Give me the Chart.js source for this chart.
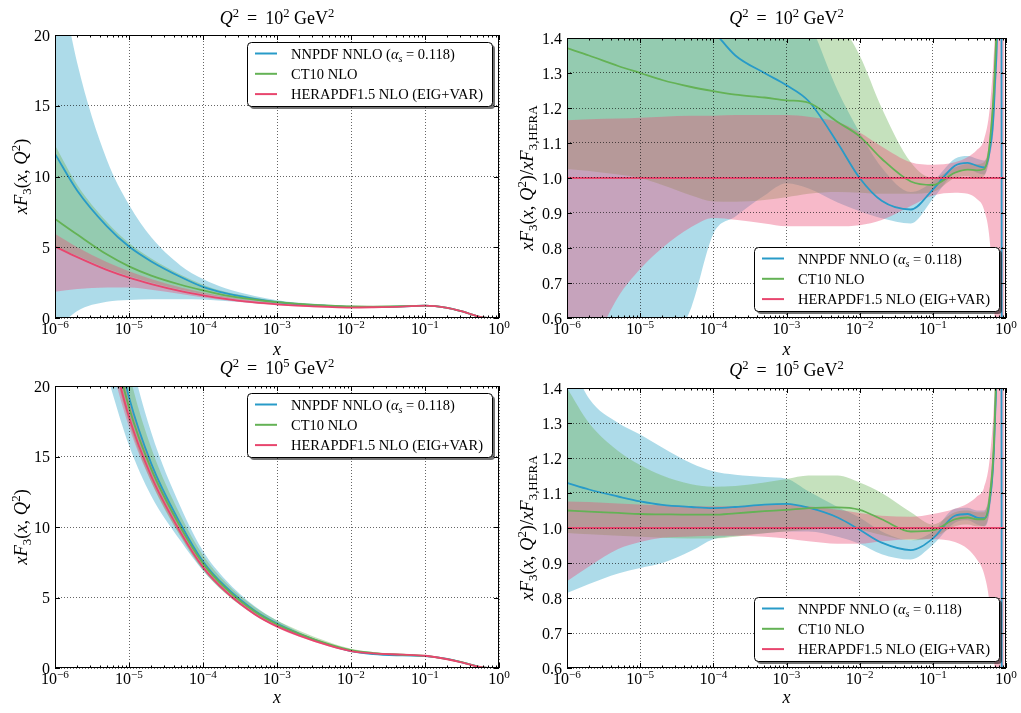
<!DOCTYPE html>
<html lang="en">
<head>
<meta charset="UTF-8">
<title>xF3 comparison</title>
<script src="https://cdn.jsdelivr.net/npm/chart.js"></script>
<style>
  body { margin: 0; background: #fff; }
  #wrap { position: relative; width: 1021px; height: 713px; }
  #wrap canvas { position: absolute; left: 0; top: 0; }
</style>
</head>
<body>
<div id="wrap">
  <canvas id="cA" width="1021" height="713"></canvas>
  <canvas id="cB" width="1021" height="713"></canvas>
  <canvas id="cC" width="1021" height="713"></canvas>
  <canvas id="cD" width="1021" height="713"></canvas>
</div>
<script>
// x sampling points (shared by all panels)
const xs = [1e-6, 2e-6, 5e-6, 1e-5, 2e-5, 5e-5, 1e-4, 2e-4, 5e-4, 1e-3, 2e-3, 5e-3, 1e-2, 2e-2, 5e-2,
            0.1, 0.2, 0.3, 0.4, 0.5, 0.6, 0.7, 0.8, 0.85, 0.9, 0.95];

// tick values
const xDecades = [-6, -5, -4, -3, -2, -1, 0];
const yTicksF = [0, 5, 10, 15, 20];
const yTicksR = [0.6, 0.7, 0.8, 0.9, 1.0, 1.1, 1.2, 1.3, 1.4];

// --- Q2 = 10^2, xF3 ---
const nnA   = [11.6, 9.0, 6.5, 5.05, 4.0, 2.9, 2.2, 1.75, 1.35, 1.12, 0.97, 0.85, 0.78, 0.78, 0.82, 0.87, 0.72, 0.5, 0.3, 0.14, 0.05, 0.015, 0.003, 0, 0, 0];
const nnAlo = [-0.9, 0.5, 1.15, 1.28, 1.32, 1.33, 1.3, 1.2, 1.05, 0.95, 0.85, 0.76, 0.72, 0.74, 0.79, 0.85, 0.7, 0.48, 0.29, 0.13, 0.045, 0.012, 0.002, 0, 0, 0];
const nnAhi = [26, 18, 11.2, 8.0, 5.7, 3.7, 2.75, 2.1, 1.55, 1.25, 1.07, 0.93, 0.86, 0.84, 0.86, 0.9, 0.74, 0.52, 0.31, 0.15, 0.055, 0.018, 0.004, 0, 0, 0];
const ctA   = [7.0, 5.9, 4.5, 3.65, 3.0, 2.35, 1.95, 1.6, 1.3, 1.12, 1.0, 0.88, 0.82, 0.81, 0.83, 0.88, 0.72, 0.5, 0.3, 0.14, 0.05, 0.015, 0.003, 0, 0, 0];
const ctAlo = [5.0, 4.4, 3.5, 2.95, 2.5, 2.0, 1.7, 1.45, 1.2, 1.05, 0.95, 0.84, 0.78, 0.78, 0.81, 0.86, 0.7, 0.49, 0.29, 0.13, 0.045, 0.013, 0.002, 0, 0, 0];
const ctAhi = [12.2, 9.4, 6.8, 5.3, 4.2, 3.05, 2.35, 1.85, 1.45, 1.2, 1.05, 0.93, 0.86, 0.85, 0.86, 0.9, 0.74, 0.51, 0.31, 0.15, 0.055, 0.017, 0.004, 0, 0, 0];
const heA   = [5.05, 4.3, 3.4, 2.85, 2.4, 1.9, 1.6, 1.35, 1.1, 0.97, 0.87, 0.78, 0.74, 0.76, 0.81, 0.88, 0.72, 0.5, 0.3, 0.14, 0.05, 0.015, 0.003, 0, 0, 0];
const heAlo = [1.85, 2.05, 2.15, 2.15, 2.0, 1.7, 1.45, 1.25, 1.03, 0.9, 0.8, 0.73, 0.7, 0.72, 0.79, 0.86, 0.7, 0.48, 0.29, 0.13, 0.045, 0.012, 0.002, 0, 0, 0];
const heAhi = [5.95, 5.0, 3.95, 3.3, 2.75, 2.15, 1.8, 1.5, 1.22, 1.07, 0.95, 0.85, 0.8, 0.8, 0.83, 0.9, 0.74, 0.52, 0.31, 0.15, 0.055, 0.018, 0.004, 0, 0, 0];

// --- Q2 = 10^2, ratio to HERAPDF ---
const nnB   = [2.3, 2.1, 1.85, 1.7, 1.6, 1.48, 1.42, 1.35, 1.3, 1.265, 1.22, 1.1, 1.0, 0.935, 0.91, 0.967, 1.035, 1.043, 1.035, 1.03, 1.08, 1.25, 1.8, 3.0, -2.0, -2.0];
const nnBlo = [-0.3, -0.1, 0.2, 0.35, 0.48, 0.63, 0.84, 0.89, 0.95, 0.985, 0.97, 0.93, 0.905, 0.885, 0.87, 0.94, 1.015, 1.025, 1.015, 1.01, 1.06, 1.2, 1.7, 2.8, -2.2, -2.2];
const nnBhi = [3.0, 2.6, 2.2, 2.0, 1.9, 1.8, 1.75, 1.7, 1.62, 1.55, 1.45, 1.25, 1.13, 1.03, 0.96, 0.99, 1.055, 1.063, 1.055, 1.05, 1.1, 1.3, 1.9, 3.2, -1.8, -1.8];
const ctB   = [1.371, 1.35, 1.32, 1.3, 1.28, 1.26, 1.248, 1.238, 1.23, 1.222, 1.215, 1.16, 1.119, 1.055, 0.99, 0.98, 1.015, 1.024, 1.022, 1.025, 1.1, 1.3, 1.7, 2.2, 3.0, 3.5];
const ctBlo = [1.026, 1.02, 1.01, 1.0, 0.98, 0.95, 0.933, 0.932, 0.937, 0.945, 0.955, 0.96, 0.958, 0.955, 0.955, 0.96, 1.0, 1.005, 1.0, 1.005, 1.08, 1.25, 1.6, 2.1, 2.9, 3.4];
const ctBhi = [1.8, 1.75, 1.7, 1.68, 1.66, 1.64, 1.62, 1.6, 1.58, 1.56, 1.52, 1.45, 1.35, 1.2, 1.045, 1.0, 1.03, 1.04, 1.04, 1.045, 1.12, 1.35, 1.8, 2.3, 3.1, 3.6];
const heB   = [1, 1, 1, 1, 1, 1, 1, 1, 1, 1, 1, 1, 1, 1, 1, 1, 1, 1, 1, 1, 1, 1, 1, 1, 1, 1];
const heBlo = [0.4, 0.5, 0.66, 0.74, 0.8, 0.86, 0.886, 0.881, 0.87, 0.862, 0.862, 0.862, 0.865, 0.88, 0.92, 0.95, 0.958, 0.955, 0.94, 0.91, 0.82, 0.6, 0.3, 0.1, -0.2, -0.5];
const heBhi = [1.165, 1.168, 1.17, 1.172, 1.175, 1.178, 1.178, 1.18, 1.18, 1.18, 1.175, 1.16, 1.13, 1.09, 1.045, 1.038, 1.045, 1.06, 1.08, 1.11, 1.2, 1.4, 1.7, 2.0, 2.5, 3.0];

// --- Q2 = 10^5, xF3 ---
const nnC   = [50.8, 37.7, 26.2, 19.2, 14.5, 10.2, 7.56, 5.78, 4.07, 3.15, 2.43, 1.65, 1.19, 0.99, 0.89, 0.845, 0.64, 0.44, 0.26, 0.123, 0.049, 0.015, 0.002, 0, 0, 0];
const nnClo = [36.6, 28.6, 20.9, 15.8, 12.2, 9.0, 6.9, 5.33, 3.76, 2.92, 2.28, 1.56, 1.15, 0.95, 0.865, 0.83, 0.63, 0.43, 0.253, 0.121, 0.047, 0.014, 0.002, 0, 0, 0];
const nnChi = [67, 46.6, 31.2, 22.6, 16.7, 11.4, 8.3, 6.28, 4.38, 3.36, 2.54, 1.7, 1.24, 1.02, 0.92, 0.86, 0.65, 0.45, 0.265, 0.126, 0.05, 0.016, 0.003, 0, 0, 0];
const ctC   = [47.3, 35.6, 25.0, 18.5, 14.1, 9.96, 7.42, 5.68, 4.0, 3.1, 2.43, 1.69, 1.26, 1.06, 0.94, 0.865, 0.635, 0.435, 0.256, 0.123, 0.049, 0.015, 0.002, 0, 0, 0];
const ctClo = [44.4, 33.4, 23.5, 17.4, 13.2, 9.3, 6.94, 5.31, 3.76, 2.92, 2.29, 1.6, 1.19, 1.01, 0.92, 0.845, 0.625, 0.425, 0.251, 0.121, 0.048, 0.014, 0.002, 0, 0, 0];
const ctChi = [63, 44.2, 29.3, 21.0, 15.6, 10.8, 8.0, 6.1, 4.32, 3.36, 2.65, 1.84, 1.36, 1.13, 0.99, 0.88, 0.645, 0.44, 0.26, 0.125, 0.05, 0.016, 0.003, 0, 0, 0];
const heC   = [45, 34, 24, 17.8, 13.6, 9.6, 7.15, 5.45, 3.82, 2.95, 2.3, 1.6, 1.2, 1.03, 0.95, 0.87, 0.62, 0.42, 0.25, 0.12, 0.045, 0.012, 0.002, 0, 0, 0];
const heClo = [38.2, 30.3, 22.6, 17.1, 13.2, 9.37, 7.0, 5.33, 3.72, 2.86, 2.21, 1.53, 1.15, 0.99, 0.92, 0.84, 0.6, 0.4, 0.235, 0.11, 0.04, 0.009, 0.001, 0, 0, 0];
const heChi = [48.4, 36.5, 25.7, 19.0, 14.5, 10.2, 7.6, 5.8, 4.07, 3.15, 2.44, 1.68, 1.25, 1.07, 0.98, 0.905, 0.655, 0.45, 0.272, 0.134, 0.054, 0.017, 0.004, 0, 0, 0];

// --- Q2 = 10^5, ratio to HERAPDF ---
const nnD   = [1.129, 1.11, 1.09, 1.076, 1.066, 1.06, 1.057, 1.06, 1.067, 1.069, 1.058, 1.03, 0.995, 0.958, 0.937, 0.97, 1.035, 1.04, 1.03, 1.028, 1.08, 1.28, 1.9, 3.0, -2.0, -2.0];
const nnDlo = [0.814, 0.84, 0.87, 0.886, 0.9, 0.935, 0.968, 0.978, 0.985, 0.99, 0.99, 0.975, 0.955, 0.925, 0.91, 0.952, 1.015, 1.022, 1.01, 1.005, 1.05, 1.24, 1.8, 2.8, -2.2, -2.2];
const nnDhi = [1.5, 1.37, 1.3, 1.267, 1.23, 1.185, 1.162, 1.152, 1.146, 1.141, 1.105, 1.06, 1.03, 0.99, 0.965, 0.99, 1.055, 1.058, 1.05, 1.05, 1.11, 1.32, 2.0, 3.2, -1.8, -1.8];
const ctD   = [1.05, 1.047, 1.043, 1.04, 1.039, 1.038, 1.038, 1.042, 1.048, 1.052, 1.057, 1.059, 1.052, 1.025, 0.99, 0.993, 1.025, 1.03, 1.025, 1.025, 1.09, 1.3, 1.9, 2.6, 3.2, 3.6];
const ctDlo = [0.986, 0.982, 0.978, 0.975, 0.972, 0.97, 0.97, 0.975, 0.985, 0.99, 0.995, 1.0, 0.995, 0.98, 0.965, 0.972, 1.005, 1.01, 1.005, 1.005, 1.06, 1.25, 1.8, 2.4, 3.0, 3.4];
const ctDhi = [1.4, 1.3, 1.22, 1.18, 1.15, 1.125, 1.118, 1.12, 1.13, 1.14, 1.15, 1.15, 1.13, 1.1, 1.045, 1.01, 1.045, 1.05, 1.045, 1.045, 1.12, 1.35, 2.0, 2.8, 3.4, 3.8];
const heD   = [1, 1, 1, 1, 1, 1, 1, 1, 1, 1, 1, 1, 1, 1, 1, 1, 1, 1, 1, 1, 1, 1, 1, 1, 1, 1];
const heDlo = [0.848, 0.89, 0.94, 0.96, 0.972, 0.976, 0.978, 0.978, 0.975, 0.97, 0.962, 0.955, 0.955, 0.962, 0.968, 0.968, 0.96, 0.94, 0.91, 0.87, 0.78, 0.6, 0.3, 0.1, -0.2, -0.5];
const heDhi = [1.076, 1.074, 1.07, 1.067, 1.065, 1.063, 1.062, 1.063, 1.065, 1.066, 1.062, 1.052, 1.043, 1.035, 1.032, 1.04, 1.055, 1.07, 1.09, 1.115, 1.2, 1.4, 1.8, 2.2, 2.8, 3.0];

const SERIF = '"Liberation Serif", "DejaVu Serif", serif';

// label pieces: [text, style] with i = italic, ^ = superscript, _ = subscript
const legendLabels = [
  [['NNPDF NNLO ('], ['\u03b1', 'i'], ['s', 'i_'], [' = 0.118)']],
  [['CT10 NLO']],
  [['HERAPDF1.5 NLO (EIG+VAR)']]
];
const lineColors = ['rgb(40,155,200)', 'rgb(100,178,85)', 'rgb(232,70,110)'];
const bandColors = ['rgba(50,165,200,0.4)', 'rgba(110,180,90,0.4)', 'rgba(235,80,120,0.4)'];

const titleLo = [['Q', 'i'], ['2', '^'], [' \u2009=\u2009 10'], ['2', '^'], [' GeV'], ['2', '^']];
const titleHi = [['Q', 'i'], ['2', '^'], [' \u2009=\u2009 10'], ['5', '^'], [' GeV'], ['2', '^']];
const ylabF = [['xF', 'i'], ['3', '_'], ['('], ['x', 'i'], [', '], ['Q', 'i'], ['2', '^'], [')']];
const ylabR = [['xF', 'i'], ['3', '_'], ['('], ['x', 'i'], [', '], ['Q', 'i'], ['2', '^'], [')/'], ['xF', 'i'], ['3,HERA', '_']];

function isDecade(v) {
  const l = Math.log10(v);
  return Math.abs(l - Math.round(l)) < 1e-6;
}

function rich(ctx, parts, x, y, size, align, angle) {
  ctx.save();
  ctx.translate(x, y);
  if (angle) ctx.rotate(angle);
  const items = parts.map(([t, s = '']) => {
    const small = s.includes('^') || s.includes('_');
    const fs = small ? size * 0.7 : size;
    const font = (s.includes('i') ? 'italic ' : '') + fs + 'px ' + SERIF;
    ctx.font = font;
    return { t, font, w: ctx.measureText(t).width,
             dy: s.includes('^') ? -size * 0.4 : s.includes('_') ? size * 0.22 : 0 };
  });
  const total = items.reduce((s, it) => s + it.w, 0);
  let cx = align === 'center' ? -total / 2 : align === 'right' ? -total : 0;
  ctx.fillStyle = '#000';
  ctx.textAlign = 'left';
  ctx.textBaseline = 'alphabetic';
  items.forEach(it => { ctx.font = it.font; ctx.fillText(it.t, cx, it.dy); cx += it.w; });
  ctx.restore();
}

function pts(arr) {
  return xs.map((x, i) => ({ x: x, y: arr[i] }));
}

// lines first (drawn last, on top), then bands: pink, green, blue (blue drawn first)
function makeDatasets(mids, los, his) {
  const sets = [2, 1, 0].map(k => ({
    data: pts(mids[k]), borderColor: lineColors[k], borderWidth: 1.8, fill: false
  }));
  [2, 1, 0].forEach(k => {
    sets.push({ data: pts(his[k]), borderColor: 'rgba(0,0,0,0)', borderWidth: 0,
                backgroundColor: bandColors[k], fill: '+1' });
    sets.push({ data: pts(los[k]), borderColor: 'rgba(0,0,0,0)', borderWidth: 0, fill: false });
  });
  return sets;
}

function decorations(cfg) {
  return {
    id: 'decorations',
    afterDraw(chart) {
      const { ctx, chartArea: a } = chart;
      const sx = chart.scales.x, sy = chart.scales.y;
      ctx.save();
      ctx.strokeStyle = '#000';
      ctx.lineWidth = 1;
      ctx.beginPath();
      sx.ticks.forEach(t => {
        const px = Math.round(sx.getPixelForValue(t.value)) + 0.5;
        const len = isDecade(t.value) ? 5 : 2.5;
        ctx.moveTo(px, a.bottom); ctx.lineTo(px, a.bottom - len);
        ctx.moveTo(px, a.top); ctx.lineTo(px, a.top + len);
      });
      sy.ticks.forEach(t => {
        const py = Math.round(sy.getPixelForValue(t.value)) + 0.5;
        ctx.moveTo(a.left, py); ctx.lineTo(a.left + 5, py);
        ctx.moveTo(a.right, py); ctx.lineTo(a.right - 5, py);
      });
      ctx.stroke();
      ctx.strokeRect(a.left + 0.5, a.top + 0.5, a.width - 1, a.height - 1);

      // tick labels
      sx.ticks.filter(t => isDecade(t.value)).forEach(t => {
        const e = Math.round(Math.log10(t.value));
        rich(ctx, [['10'], [e < 0 ? '\u2212' + (-e) : String(e), '^']],
             sx.getPixelForValue(t.value), a.bottom + 16, 16, 'center');
      });
      sy.ticks.forEach(t => {
        rich(ctx, [[cfg.yfmt(t.value)]], a.left - 5, sy.getPixelForValue(t.value) + 5.5, 16, 'right');
      });

      // titles
      const cx = (a.left + a.right) / 2;
      rich(ctx, cfg.title, cx, cfg.titleY, 18, 'center');
      rich(ctx, [['x', 'i']], cx, cfg.xlabY, 18, 'center');
      rich(ctx, cfg.ylab, cfg.ylabX, (a.top + a.bottom) / 2, 18.5, 'center', -Math.PI / 2);

      // legend box
      const w = 245, h = 64;
      const lx = a.right - 7 - w;
      const ly = cfg.legendTop ? a.top + 7 : a.bottom - 7 - h;
      ctx.fillStyle = 'rgba(0,0,0,0.55)';
      ctx.beginPath(); ctx.roundRect(lx + 3, ly + 3, w, h, 4); ctx.fill();
      ctx.fillStyle = '#fff';
      ctx.beginPath(); ctx.roundRect(lx + 0.5, ly + 0.5, w, h, 4); ctx.fill();
      ctx.strokeStyle = '#000'; ctx.lineWidth = 1; ctx.stroke();
      legendLabels.forEach((lab, i) => {
        const yy = ly + 11.5 + i * 20.3;
        ctx.strokeStyle = lineColors[i]; ctx.lineWidth = 2;
        ctx.beginPath(); ctx.moveTo(lx + 8, yy); ctx.lineTo(lx + 30, yy); ctx.stroke();
        rich(ctx, lab, lx + 44, yy + 5, 14.5, 'left');
      });
      ctx.restore();
    }
  };
}

function makeChart(id, cfg) {
  const gridColor = c => (c.tick && isDecade(c.tick.value)) ? 'rgba(0,0,0,0.6)' : 'rgba(0,0,0,0)';
  const xTickValues = [];
  xDecades.forEach(e => {
    if (e === 0) { xTickValues.push(1); return; }
    for (let m = 1; m <= 9; m++) xTickValues.push(m * Math.pow(10, e));
  });
  new Chart(document.getElementById(id), {
    type: 'line',
    data: { datasets: makeDatasets(cfg.mids, cfg.los, cfg.his) },
    options: {
      responsive: false,
      animation: false,
      devicePixelRatio: 1,
      events: [],
      layout: { padding: cfg.pad },
      elements: {
        point: { radius: 0, hoverRadius: 0 },
        line: { cubicInterpolationMode: 'monotone', tension: 0.4, capBezierPoints: false }
      },
      plugins: { legend: { display: false }, tooltip: { enabled: false } },
      scales: {
        x: {
          type: 'logarithmic', min: 1e-6, max: 1,
          afterBuildTicks: s => { s.ticks = xTickValues.map(v => ({ value: v })); },
          ticks: { display: false },
          grid: { color: gridColor, lineWidth: 1, drawTicks: false, z: 1 },
          border: { display: false, dash: [1, 2] }
        },
        y: {
          type: 'linear', min: cfg.yTicks[0], max: cfg.yTicks[cfg.yTicks.length - 1],
          afterBuildTicks: s => { s.ticks = cfg.yTicks.map(v => ({ value: v })); },
          ticks: { display: false },
          grid: { color: 'rgba(0,0,0,0.6)', lineWidth: 1, drawTicks: false, z: 1 },
          border: { display: false, dash: [1, 2] }
        }
      }
    },
    plugins: [decorations(cfg)]
  });
}

makeChart('cA', {
  mids: [nnA, ctA, heA], los: [nnAlo, ctAlo, heAlo], his: [nnAhi, ctAhi, heAhi],
  pad: { left: 55, top: 35, right: 522, bottom: 395 },
  yTicks: yTicksF, yfmt: v => String(v),
  title: titleLo, titleY: 24, xlabY: 355, ylab: ylabF, ylabX: 27, legendTop: true
});
makeChart('cB', {
  mids: [nnB, ctB, heB], los: [nnBlo, ctBlo, heBlo], his: [nnBhi, ctBhi, heBhi],
  pad: { left: 567, top: 38, right: 15, bottom: 395 },
  yTicks: yTicksR, yfmt: v => v.toFixed(1),
  title: titleLo, titleY: 24, xlabY: 355, ylab: ylabR, ylabX: 533, legendTop: false
});
makeChart('cC', {
  mids: [nnC, ctC, heC], los: [nnClo, ctClo, heClo], his: [nnChi, ctChi, heChi],
  pad: { left: 55, top: 386, right: 522, bottom: 45 },
  yTicks: yTicksF, yfmt: v => String(v),
  title: titleHi, titleY: 374, xlabY: 703, ylab: ylabF, ylabX: 27, legendTop: true
});
makeChart('cD', {
  mids: [nnD, ctD, heD], los: [nnDlo, ctDlo, heDlo], his: [nnDhi, ctDhi, heDhi],
  pad: { left: 567, top: 388, right: 15, bottom: 45 },
  yTicks: yTicksR, yfmt: v => v.toFixed(1),
  title: titleHi, titleY: 376, xlabY: 703, ylab: ylabR, ylabX: 533, legendTop: false
});
</script>
</body>
</html>
